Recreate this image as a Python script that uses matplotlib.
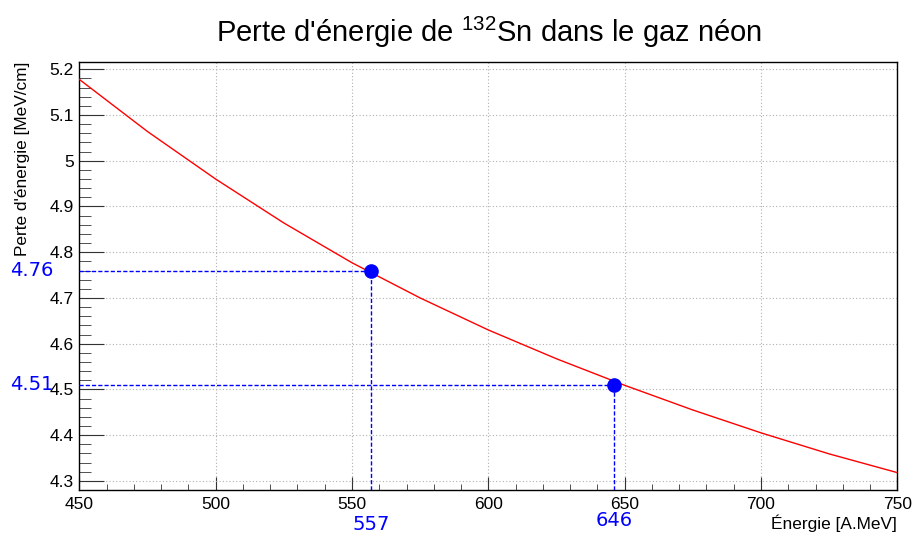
import numpy as np
import matplotlib
matplotlib.use("Agg")
import matplotlib.pyplot as plt
from matplotlib.ticker import MultipleLocator, FuncFormatter

plt.rcParams['font.family'] = ['Liberation Sans', 'DejaVu Sans']
plt.rcParams['mathtext.fontset'] = 'custom'
plt.rcParams['mathtext.rm'] = 'Liberation Sans'
plt.rcParams['mathtext.default'] = 'regular'

# stopping power curve of 132Sn in neon gas
energy = [450, 475, 500, 525, 550, 575, 600, 625, 650, 675, 700, 725, 750]
dedx = [5.178, 5.064, 4.960, 4.864, 4.777, 4.700, 4.630, 4.567, 4.509,
        4.455, 4.405, 4.359, 4.318]

# marked working points
mark_e = [557, 646]
mark_dedx = [4.76, 4.51]
mark_e_labels = ["557", "646"]
mark_dedx_labels = ["4.76", "4.51"]

xmin, xmax = 450, 750
ymin, ymax = 4.280, 5.216

fig = plt.figure(figsize=(9.13, 5.34), dpi=100)
ax = fig.add_axes([79.3 / 913, 44 / 534, 818 / 913, 428 / 534])

ax.set_xlim(xmin, xmax)
ax.set_ylim(ymin, ymax)

ax.grid(True, which='major', linestyle=(0, (1, 2)), color='#b0b0b0', lw=0.8)
ax.set_axisbelow(True)

ax.plot(energy, dedx, color='red', lw=1.0, zorder=3)

for e, d in zip(mark_e, mark_dedx):
    ax.plot([xmin, e], [d, d], color='blue', lw=1.0, ls=(0, (3, 1.5)), zorder=4)
    ax.plot([e, e], [ymin, d], color='blue', lw=1.0, ls=(0, (3, 1.5)), zorder=4)
ax.plot(mark_e, mark_dedx, 'o', color='blue', ms=9.5, zorder=5)

for d, lab in zip(mark_dedx, mark_dedx_labels):
    ax.text(424.6, d, lab, color='blue', fontsize=14, family='DejaVu Sans',
            ha='left', va='center', clip_on=False)
for e, lab, yl in zip(mark_e, mark_e_labels, [4.205, 4.213]):
    ax.text(e, yl, lab, color='blue', fontsize=14, family='DejaVu Sans',
            ha='center', va='center', clip_on=False)

ax.xaxis.set_major_locator(MultipleLocator(50))
ax.xaxis.set_minor_locator(MultipleLocator(10))
ax.yaxis.set_major_locator(MultipleLocator(0.1))
ax.yaxis.set_minor_locator(MultipleLocator(0.02))
ax.yaxis.set_major_formatter(FuncFormatter(lambda v, p: f"{v:g}"))

ax.tick_params(which='both', direction='in', colors='#333333', labelcolor='black',
               labelsize=12.5, top=False, right=False)
ax.tick_params(axis='x', which='major', length=12.8 * 0.72, pad=5)
ax.tick_params(axis='x', which='minor', length=6.4 * 0.72)
ax.tick_params(axis='y', which='major', length=24.5 * 0.72, pad=4)
ax.tick_params(axis='y', which='minor', length=12 * 0.72)
for s in ax.spines.values():
    s.set_linewidth(1.0)

ax.text(1.0, -33 / 428, "Énergie [A.MeV]", transform=ax.transAxes,
        ha='right', va='center', fontsize=12.4)
ax.text(-57 / 818, 1.0, "Perte d'énergie [MeV/cm]", transform=ax.transAxes,
        rotation=90, ha='center', va='top', fontsize=12.4)

fig.text(489 / 913, 1 - 32 / 534, "Perte d'énergie de $^{132}$Sn dans le gaz néon",
         ha='center', va='center', fontsize=21)

fig.savefig("out.png", dpi=100)
